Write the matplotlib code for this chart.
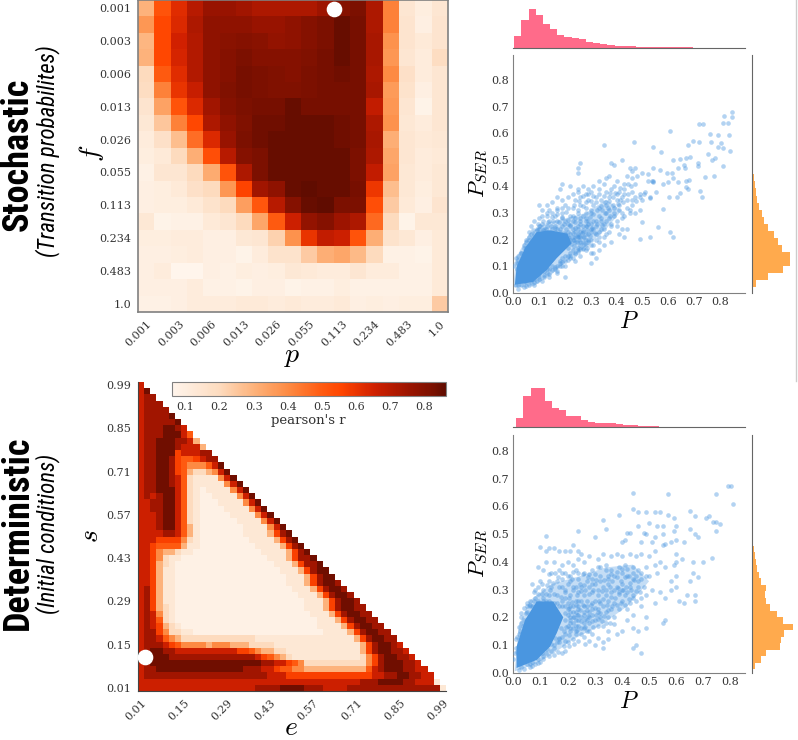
import matplotlib
matplotlib.use('Agg')
import matplotlib.pyplot as plt
import numpy as np
from matplotlib import font_manager
from matplotlib.colors import LinearSegmentedColormap
from matplotlib.lines import Line2D

W, H = 798, 740

# stochastic heatmap, pearson's r, row 0 = f 0.001
stoch_r = [
    [.30, .52, .62, .70, .76, .76, .74, .72, .72, .72, .72, .75, .80, .82, .72, .42, .14, .10, .14],
    [.37, .55, .63, .72, .78, .78, .78, .76, .76, .78, .80, .82, .85, .83, .72, .42, .15, .09, .15],
    [.29, .55, .65, .71, .78, .79, .80, .79, .77, .78, .80, .82, .85, .83, .73, .38, .15, .12, .15],
    [.30, .55, .64, .71, .78, .80, .82, .80, .80, .80, .81, .83, .85, .83, .73, .37, .14, .11, .19],
    [.20, .50, .62, .71, .78, .80, .83, .82, .81, .80, .82, .83, .84, .83, .72, .40, .17, .11, .14],
    [.19, .42, .60, .67, .78, .81, .83, .82, .81, .81, .82, .83, .83, .83, .73, .36, .16, .09, .14],
    [.15, .34, .52, .63, .74, .80, .82, .83, .83, .85, .83, .83, .83, .83, .68, .37, .14, .07, .14],
    [.13, .25, .42, .55, .72, .78, .81, .84, .84, .85, .85, .85, .84, .83, .72, .38, .13, .11, .14],
    [.11, .17, .27, .46, .63, .76, .82, .84, .85, .85, .85, .85, .84, .83, .73, .31, .14, .12, .13],
    [.10, .12, .20, .31, .53, .70, .80, .82, .85, .85, .85, .85, .85, .82, .72, .33, .14, .11, .12],
    [.08, .14, .14, .20, .32, .52, .72, .82, .85, .85, .85, .85, .85, .82, .68, .34, .13, .11, .13],
    [.09, .10, .12, .17, .20, .37, .56, .74, .78, .85, .86, .85, .85, .83, .59, .27, .13, .10, .13],
    [.09, .10, .10, .12, .16, .20, .35, .51, .70, .80, .85, .86, .82, .82, .53, .24, .12, .09, .15],
    [.13, .07, .08, .08, .12, .14, .20, .33, .50, .66, .77, .80, .75, .72, .47, .20, .07, .13, .13],
    [.10, .10, .11, .11, .09, .09, .13, .14, .22, .38, .60, .68, .66, .52, .31, .16, .13, .09, .12],
    [.09, .09, .10, .11, .09, .09, .07, .11, .16, .16, .24, .31, .33, .28, .20, .08, .08, .07, .12],
    [.09, .11, .06, .06, .09, .08, .10, .09, .10, .13, .12, .11, .11, .14, .11, .11, .08, .08, .12],
    [.09, .09, .09, .11, .08, .08, .07, .09, .09, .07, .08, .08, .10, .08, .08, .08, .08, .08, .12],
    [.08, .08, .09, .11, .11, .11, .12, .12, .11, .12, .11, .11, .12, .09, .10, .09, .10, .10, .24],
]
stoch_labels = ['0.001', '0.003', '0.006', '0.013', '0.026', '0.055', '0.113', '0.234', '0.483', '1.0']

# deterministic heatmap, one digit per cell, first string is s 0.99, last is s 0.01
det_rows = [
    "7",
    "79",
    "788",
    "7888",
    "78888",
    "788889",
    "7888889",
    "78889987",
    "788899975",
    "7889998873",
    "78899987773",
    "788999677788",
    "7889986556788",
    "78899865444579",
    "788998653223479",
    "7889987521111479",
    "78899875211111479",
    "788999752101111479",
    "7878997521001111479",
    "77889975210001111479",
    "778899752100001111479",
    "7778997521000001111479",
    "77789975210000001111479",
    "777899753100000001111479",
    "7777887531000000011113689",
    "77766664210000000011113689",
    "776555531100000000011113689",
    "7764332110000000000011113689",
    "77642110000000000000011136889",
    "776321" + "0" * 16 + "111" + "36889",
    "776311" + "0" * 17 + "111" + "36899",
    "776311" + "0" * 18 + "111" + "36899",
    "776311" + "0" * 18 + "111" + "368998",
    "786311" + "0" * 19 + "111" + "368998",
    "786311" + "0" * 20 + "111" + "368998",
    "786311" + "0" * 21 + "111" + "368998",
    "786321" + "0" * 21 + "111" + "3689988",
    "787421" + "0" * 22 + "111" + "3689988",
    "787521" + "0" * 23 + "111" + "3689988",
    "7876321" + "0" * 22 + "1111" + "3689988",
    "788642211" + "0" * 21 + "1111" + "3689988",
    "7887543" + "2" * 12 + "1" * 16 + "3689988",
    "78887654444344433322" + "22" + "1" * 14 + "3689987",
    "7899887777777777665433" + "22" + "1" * 12 + "36899887",
    "78999" + "8" * 14 + "7654" + "32" + "1" * 11 + "2" + "46899887",
    "78" + "9" * 18 + "8877654" + "2" * 10 + "468999887",
    "788" + "9" * 14 + "88" + "8776554433333333335" + "789998877",
    "7" + "8" * 17 + "8887776666666666666677" + "88998877",
    "7" * 36 + "8889999887771",
    "7" * 19 + "8888" + "9999" + "888" + "7777" + "8" * 15 + "1",
]
det_levels = [.08, .13, .20, .30, .40, .50, .57, .66, .74, .84]
det_labels = ['0.01', '0.15', '0.29', '0.43', '0.57', '0.71', '0.85', '0.99']

# saturated part of each cloud (thousands of overlapping points), outline
top_core_x = [.006, .076, .13, .168, .225, .21, .142, .09, .045, .013]
top_core_y = [.03, .04, .086, .13, .185, .222, .235, .228, .168, .098]
bot_core_x = [.012, .086, .135, .16, .184, .147, .086, .043, .012]
bot_core_y = [.017, .046, .094, .143, .20, .257, .257, .19, .094]
# half covered zone around the core
top_halo_x = [.0, .08, .15, .22, .29, .36, .42, .36, .28, .20, .12, .06, .01]
top_halo_y = [.02, .025, .07, .13, .18, .24, .31, .35, .30, .28, .26, .22, .13]
bot_halo_x = [.005, .08, .15, .22, .32, .42, .50, .44, .34, .25, .14, .06, .02]
bot_halo_y = [.005, .03, .07, .12, .17, .24, .33, .39, .38, .35, .32, .26, .17]

top_far = [
    (.845, .68), (.817, .665), (.845, .66), (.813, .64), (.83, .64), (.717, .635), (.735, .637), (.606, .61),
    (.761, .596), (.794, .593), (.836, .593), (.352, .558), (.468, .566), (.542, .548), (.57, .528), (.694, .572),
    (.72, .568), (.677, .555), (.765, .568), (.806, .565), (.794, .55), (.813, .543), (.839, .533), (.755, .522),
    (.78, .506), (.768, .5), (.813, .477), (.716, .487), (.716, .478), (.742, .437), (.777, .44), (.645, .502),
    (.67, .506), (.684, .51), (.62, .50), (.66, .48), (.665, .468), (.639, .468), (.613, .45), (.594, .452),
    (.568, .462), (.54, .468), (.52, .447), (.62, .43), (.68, .424), (.668, .42), (.639, .418), (.6, .418),
    (.58, .41), (.537, .42), (.723, .384), (.729, .359), (.677, .392), (.67, .399), (.645, .376), (.632, .361),
    (.604, .361), (.552, .379), (.529, .355), (.58, .317), (.561, .246), (.606, .227), (.619, .208), (.529, .211),
    (.49, .203), (.497, .267), (.54, .42), (.54, .418), (.47, .47), (.46, .46), (.45, .47), (.42, .50),
    (.38, .49), (.39, .48), (.26, .49), (.25, .47), (.25, .45), (.37, .44), (.36, .43), (.33, .42),
]
top_mid = [
    (.50, .45), (.48, .44), (.46, .43), (.44, .44), (.52, .42), (.47, .41), (.43, .41), (.40, .42), (.39, .40), (.35, .41),
    (.31, .40), (.29, .39), (.27, .40), (.25, .39), (.22, .40), (.19, .41), (.18, .39), (.23, .37), (.25, .38), (.28, .37),
    (.30, .38), (.33, .39), (.36, .38), (.38, .39), (.41, .38), (.43, .39), (.46, .38), (.49, .37), (.51, .38), (.53, .36),
    (.50, .35), (.47, .36), (.44, .35), (.42, .36), (.40, .35), (.37, .36), (.34, .35), (.32, .36), (.29, .35), (.26, .36),
    (.24, .35), (.21, .36), (.19, .35), (.17, .36), (.15, .34), (.13, .33), (.10, .33), (.11, .31), (.14, .31), (.17, .32),
    (.20, .33), (.23, .32), (.26, .33), (.28, .32), (.31, .33), (.33, .32), (.36, .33), (.39, .32), (.41, .33), (.44, .32),
    (.46, .33), (.49, .31), (.45, .30), (.42, .30), (.39, .29), (.36, .30), (.33, .29), (.30, .30), (.27, .29), (.25, .30),
    (.22, .29), (.19, .30), (.16, .29), (.13, .29), (.10, .28), (.08, .27), (.11, .26), (.14, .27), (.17, .27), (.20, .27),
    (.23, .27), (.26, .27), (.29, .27), (.32, .27), (.35, .26), (.38, .26), (.40, .25), (.42, .24), (.44, .24), (.41, .22),
    (.43, .21), (.37, .23), (.34, .24), (.31, .24), (.28, .25), (.25, .25), (.22, .25), (.19, .25), (.16, .25), (.13, .25),
    (.10, .25), (.07, .25), (.06, .23), (.35, .21), (.32, .22), (.29, .22), (.27, .23), (.24, .23), (.21, .23), (.18, .23),
    (.30, .20), (.28, .20), (.26, .21), (.23, .21), (.33, .19), (.31, .18), (.28, .18), (.26, .19), (.25, .17), (.28, .16),
    (.31, .15), (.24, .15), (.26, .14), (.22, .13), (.30, .11), (.24, .12), (.20, .12), (.19, .10), (.16, .09), (.20, .06),
    (.17, .08), (.14, .07), (.12, .06), (.10, .05), (.08, .04), (.06, .03), (.04, .02), (.02, .015), (.13, .09), (.18, .11),
]
top_near = [
    (.00, .10), (.01, .13), (.02, .14), (.03, .12), (.04, .18), (.05, .20), (.06, .21), (.07, .22), (.08, .22), (.09, .24),
    (.10, .24), (.11, .23), (.12, .24), (.13, .23), (.15, .24), (.16, .23), (.17, .24), (.18, .22), (.20, .22), (.21, .21),
    (.22, .20), (.24, .19), (.25, .21), (.26, .18), (.27, .17), (.23, .16), (.22, .15), (.25, .16), (.21, .14), (.20, .14),
    (.19, .13), (.18, .12), (.17, .10), (.15, .10), (.14, .09), (.12, .08), (.10, .07), (.09, .07), (.08, .05), (.07, .06),
    (.05, .04), (.04, .04), (.03, .03), (.02, .03), (.01, .03), (.03, .15), (.05, .17), (.07, .19), (.04, .14), (.02, .11),
    (.29, .19), (.27, .21), (.30, .23), (.32, .25), (.34, .27), (.30, .26), (.28, .28), (.24, .28), (.21, .26), (.19, .28),
    (.23, .24), (.26, .23), (.25, .22), (.28, .22), (.22, .22), (.24, .21), (.27, .19), (.23, .20), (.19, .21), (.18, .20),
]
top_dense = [
    (.21, .17), (.225, .185), (.235, .20), (.245, .215), (.255, .20), (.265, .225), (.275, .21), (.285, .235), (.295, .215), (.305, .245),
    (.215, .205), (.23, .225), (.25, .24), (.27, .25), (.29, .26), (.31, .27), (.325, .26), (.34, .28), (.355, .30), (.37, .31),
    (.195, .225), (.205, .24), (.22, .255), (.24, .265), (.26, .28), (.28, .30), (.30, .31), (.18, .24), (.195, .26), (.21, .275),
    (.23, .29), (.25, .31), (.27, .325), (.16, .245), (.175, .265), (.19, .285), (.205, .305), (.145, .25), (.155, .27), (.17, .295),
    (.125, .24), (.135, .265), (.15, .285), (.105, .25), (.115, .27), (.09, .235), (.095, .26), (.075, .235), (.06, .20), (.05, .19),
    (.04, .17), (.03, .15), (.02, .125), (.01, .11), (.015, .09), (.035, .13), (.055, .175), (.075, .205), (.095, .225), (.115, .235),
    (.05, .025), (.07, .04), (.09, .045), (.10, .06), (.12, .065), (.13, .075), (.15, .085), (.16, .095), (.18, .10), (.19, .115),
    (.21, .125), (.22, .14), (.24, .145), (.25, .155), (.27, .165), (.23, .13), (.20, .10), (.17, .075), (.14, .06), (.11, .045),
    (.08, .03), (.29, .20), (.30, .18), (.32, .20), (.33, .23), (.35, .24), (.36, .22), (.38, .25), (.40, .27), (.42, .28),
    (.37, .28), (.39, .30), (.41, .31), (.43, .29), (.45, .31), (.47, .30), (.35, .18), (.33, .16), (.38, .19), (.30, .15),
    (.32, .13), (.215, .19), (.235, .175), (.245, .19), (.26, .165), (.275, .185), (.285, .17), (.255, .215), (.27, .235), (.285, .25),
    (.30, .24), (.315, .225), (.33, .21), (.345, .255), (.36, .27), (.375, .29), (.24, .245), (.26, .26), (.28, .27), (.295, .285),
    (.31, .295), (.325, .31), (.34, .325), (.355, .34), (.37, .345), (.385, .36), (.40, .37), (.415, .35), (.43, .37), (.445, .37),
    (.46, .35), (.475, .345), (.49, .36), (.505, .37), (.425, .34), (.405, .335), (.385, .33), (.365, .32), (.345, .31), (.32, .34),
    (.30, .345), (.28, .34), (.255, .345), (.235, .33), (.21, .32), (.19, .32), (.17, .31), (.15, .30), (.13, .30), (.11, .29),
    (.445, .41), (.415, .395), (.395, .375), (.375, .375), (.35, .365), (.33, .37), (.31, .365), (.29, .37), (.27, .365), (.455, .40),
]

bot_far = [
    (.79, .675), (.80, .675), (.44, .65), (.57, .645), (.745, .645), (.81, .61), (.44, .59), (.46, .58), (.49, .58), (.52, .58),
    (.54, .58), (.57, .57), (.65, .585), (.67, .565), (.59, .56), (.60, .53), (.71, .56), (.72, .565), (.735, .545), (.745, .545),
    (.76, .535), (.745, .51), (.33, .55), (.34, .52), (.39, .57), (.46, .53), (.50, .54), (.53, .53), (.55, .53), (.59, .51),
    (.65, .52), (.67, .50), (.68, .49), (.43, .505), (.42, .505), (.48, .505), (.49, .50), (.52, .49), (.55, .50), (.60, .48),
    (.58, .47), (.63, .47), (.55, .46), (.56, .465), (.51, .47), (.47, .47), (.41, .48), (.40, .47), (.30, .49), (.24, .51),
    (.12, .495), (.22, .46), (.13, .45), (.10, .455), (.12, .44), (.15, .45), (.17, .44), (.19, .44), (.21, .44), (.24, .44),
    (.25, .43), (.60, .43), (.62, .41), (.60, .40), (.59, .39), (.66, .40), (.70, .40), (.73, .415), (.66, .36), (.68, .345),
    (.60, .35), (.58, .33), (.60, .31), (.65, .33), (.64, .28), (.67, .28), (.63, .25), (.67, .26), (.61, .26), (.55, .18),
    (.56, .19), (.49, .20), (.49, .16), (.44, .16), (.46, .15), (.45, .10), (.44, .09), (.47, .07), (.33, .09), (.33, .11),
    (.30, .10), (.35, .12), (.38, .14), (.40, .15), (.42, .19), (.44, .21), (.47, .24), (.52, .25), (.56, .27), (.58, .30),
]
bot_mid = [
    (.52, .44), (.50, .42), (.47, .43), (.45, .42), (.43, .43), (.40, .42), (.38, .43), (.36, .42), (.33, .43), (.31, .41),
    (.28, .42), (.26, .40), (.24, .41), (.22, .39), (.20, .40), (.18, .39), (.15, .40), (.12, .40), (.09, .38), (.11, .37),
    (.14, .36), (.17, .37), (.19, .36), (.21, .35), (.23, .37), (.26, .36), (.29, .37), (.31, .38), (.34, .39), (.36, .37),
    (.39, .38), (.41, .39), (.44, .38), (.46, .37), (.49, .38), (.52, .39), (.54, .40), (.56, .38), (.53, .36), (.50, .35),
    (.47, .34), (.45, .35), (.42, .35), (.40, .36), (.37, .35), (.35, .34), (.32, .35), (.29, .34), (.27, .33), (.24, .34),
    (.21, .33), (.18, .34), (.16, .33), (.13, .33), (.10, .33), (.07, .32), (.08, .30), (.11, .30), (.14, .31), (.17, .31),
    (.19, .30), (.22, .31), (.25, .31), (.28, .31), (.30, .32), (.33, .31), (.35, .32), (.38, .31), (.40, .32), (.43, .31),
    (.46, .31), (.48, .31), (.51, .30), (.54, .29), (.49, .28), (.47, .27), (.44, .28), (.41, .28), (.39, .29), (.36, .29),
    (.34, .28), (.31, .28), (.29, .29), (.26, .28), (.24, .29), (.21, .28), (.19, .27), (.16, .28), (.13, .28), (.11, .27),
    (.08, .27), (.06, .26), (.05, .24), (.09, .25), (.12, .26), (.15, .25), (.18, .26), (.20, .25), (.23, .26), (.25, .26),
    (.27, .26), (.30, .26), (.32, .25), (.35, .26), (.37, .25), (.40, .26), (.43, .25), (.45, .26), (.42, .23), (.39, .23),
    (.36, .23), (.34, .22), (.31, .23), (.29, .23), (.26, .24), (.24, .24), (.21, .24), (.37, .20), (.35, .20), (.32, .20),
    (.30, .19), (.28, .20), (.26, .21), (.24, .21), (.22, .22), (.33, .17), (.31, .17), (.28, .18), (.26, .18), (.24, .19),
    (.27, .15), (.25, .16), (.23, .17), (.29, .14), (.26, .13), (.23, .14), (.21, .15), (.22, .12), (.20, .11), (.19, .08),
    (.17, .11), (.15, .09), (.18, .07), (.13, .06), (.11, .05), (.10, .04), (.08, .03), (.06, .02), (.04, .015), (.02, .01),
]
bot_near = [
    (.00, .05), (.01, .12), (.02, .14), (.03, .18), (.03, .20), (.04, .19), (.05, .22), (.06, .24), (.07, .24), (.08, .24),
    (.09, .26), (.10, .25), (.11, .26), (.12, .25), (.13, .26), (.14, .25), (.16, .25), (.17, .24), (.18, .24), (.19, .24),
    (.20, .23), (.21, .22), (.22, .20), (.23, .19), (.21, .19), (.20, .17), (.21, .16), (.19, .14), (.18, .13), (.17, .12),
    (.16, .11), (.15, .10), (.14, .08), (.12, .07), (.11, .06), (.09, .05), (.07, .04), (.06, .03), (.05, .03), (.03, .02),
    (.24, .23), (.26, .22), (.28, .22), (.29, .25), (.31, .22), (.33, .24), (.23, .22), (.25, .20), (.27, .19), (.29, .21),
    (.22, .18), (.24, .17), (.26, .16), (.22, .24), (.24, .26), (.27, .24), (.20, .21), (.19, .19), (.21, .20), (.23, .15),
]
bot_dense = [
    (.19, .215), (.205, .235), (.215, .255), (.23, .245), (.245, .225), (.255, .245), (.27, .225), (.285, .245), (.30, .235), (.315, .26),
    (.33, .265), (.345, .245), (.36, .275), (.375, .27), (.39, .285), (.405, .30), (.42, .29), (.435, .30), (.45, .295), (.465, .29),
    (.175, .275), (.19, .29), (.205, .27), (.22, .30), (.235, .28), (.25, .295), (.265, .30), (.28, .285), (.295, .30), (.31, .30),
    (.325, .295), (.34, .30), (.355, .31), (.37, .30), (.385, .305), (.40, .30), (.415, .31), (.43, .325), (.445, .335), (.46, .33),
    (.15, .285), (.135, .30), (.12, .285), (.105, .285), (.09, .285), (.075, .26), (.06, .245), (.045, .215), (.035, .17), (.025, .15),
    (.015, .13), (.01, .09), (.005, .07), (.015, .075), (.02, .165), (.03, .215), (.04, .235), (.05, .25), (.075, .29), (.09, .31),
    (.105, .32), (.125, .315), (.145, .325), (.165, .345), (.18, .31), (.20, .32), (.215, .34), (.23, .31), (.245, .32), (.26, .315),
    (.275, .345), (.29, .32), (.305, .335), (.32, .33), (.335, .335), (.35, .35), (.365, .33), (.38, .345), (.395, .33), (.41, .345),
    (.425, .35), (.44, .34), (.255, .355), (.24, .36), (.22, .365), (.20, .35), (.18, .36), (.155, .36), (.13, .355), (.34, .37),
    (.32, .38), (.30, .355), (.28, .355), (.36, .355), (.38, .365), (.40, .375), (.42, .375), (.44, .36), (.47, .36), (.49, .35),
    (.17, .125), (.185, .15), (.195, .165), (.21, .18), (.225, .20), (.235, .21), (.25, .185), (.265, .195), (.275, .205), (.29, .185),
    (.305, .21), (.32, .215), (.335, .205), (.35, .225), (.365, .24), (.38, .245), (.395, .25), (.41, .245), (.425, .265), (.44, .27),
    (.175, .16), (.19, .115), (.205, .135), (.22, .16), (.235, .155), (.25, .14), (.265, .165), (.28, .15), (.295, .165), (.31, .195),
    (.325, .185), (.34, .18), (.355, .18), (.37, .175), (.155, .125), (.14, .105), (.125, .085), (.105, .07), (.09, .035), (.07, .025),
    (.165, .075), (.15, .065), (.185, .095), (.205, .095), (.225, .105), (.24, .115), (.31, .125), (.28, .115), (.265, .105), (.35, .15),
]

# marginal histograms, heights as drawn on screen
top_hx = [35, 83, 118, 100, 73, 57, 38, 32, 30, 27, 18, 13, 12, 8, 6, 4, 4, 3, 3, 3, 2, 1, 1, 1, 1]
top_hy = [12, 47, 94, 115, 115, 90, 78, 65, 48, 35, 28, 20, 14, 10, 7, 5, 3, 2]
bot_hx = [28, 93, 117, 117, 80, 57, 53, 35, 33, 22, 17, 13, 12, 13, 9, 7, 6, 5, 4, 3, 2, 2, 1, 1]
bot_hy = [8, 25, 40, 85, 87, 96, 122, 92, 74, 55, 42, 38, 42, 25, 20, 14, 10, 7, 5, 3, 1]

cmap = LinearSegmentedColormap.from_list('reds', [
    (0.0, '#fff5ec'), (0.17, '#fddcc0'), (0.30, '#fdb27a'), (0.42, '#fd8c45'),
    (0.55, '#ff5a10'), (0.62, '#ff4500'), (0.74, '#d02000'), (0.87, '#9a1400'), (0.96, '#781000'), (1.0, '#600c00')])
VMIN, VMAX = 0.06, 0.862
BLUE = '#4a96e0'
PINK = '#ff6b8a'
ORANGE = '#ffaa4d'
GRAY = '#808080'
TEXT = '#333333'

plt.rcParams['font.family'] = ['DejaVu Serif']
plt.rcParams['mathtext.fontset'] = 'cm'
plt.rcParams['xtick.color'] = TEXT
plt.rcParams['ytick.color'] = TEXT

fig = plt.figure(figsize=(W / 100, H / 100), dpi=100)


def box(left, top, right, bottom):
    return fig.add_axes([left / W, 1 - bottom / H, (right - left) / W, (bottom - top) / H])


def heat_ticks(ax, pos, labels, xname, yname, size):
    ax.set_xticks(pos)
    ax.set_yticks(pos)
    ax.set_xticklabels(labels, rotation=45, ha='right', rotation_mode='anchor')
    ax.set_yticklabels(labels)
    ax.tick_params(length=0, pad=5, labelsize=8)
    ax.set_xlabel(xname, fontsize=size, labelpad=0)
    ax.set_ylabel(yname, fontsize=size, labelpad=1)


# top heatmap
ax = box(138, 0, 448, 312)
ax.imshow(np.array(stoch_r), cmap=cmap, vmin=VMIN, vmax=VMAX, aspect='auto', interpolation='nearest')
heat_ticks(ax, np.arange(0, 19, 2), stoch_labels, '$p$', '$f$', 20)
ax.xaxis.set_label_coords(0.497, -30 / 312)
ax.yaxis.set_label_coords(-32 / 310, 0.51)
ax.scatter([11.5], [0.05], s=105, color='white', zorder=5, clip_on=False)
for s in ax.spines.values():
    s.set_color(GRAY)
    s.set_linewidth(1.2)

# bottom heatmap
det = np.full((50, 50), np.nan)
for k, row in enumerate(det_rows):
    for j, c in enumerate(row):
        det[49 - k, j] = det_levels[int(c)]
ax = box(138, 382, 446, 691)
im = ax.imshow(np.ma.masked_invalid(det), cmap=cmap, vmin=VMIN, vmax=VMAX, origin='lower', aspect='auto',
               interpolation='nearest')
heat_ticks(ax, np.arange(0, 50, 7), det_labels, '$e$', '$s$', 20)
ax.xaxis.set_label_coords(0.498, -23 / 309)
ax.yaxis.set_label_coords(-34 / 308, 0.5)
ax.scatter([0.58], [5.07], s=105, color='white', zorder=5, clip_on=False)
ax.spines['top'].set_visible(False)
ax.spines['right'].set_visible(False)
ax.spines['left'].set_color('#444444')
ax.spines['bottom'].set_color('#444444')

# colorbar
cax = box(171.7, 381.7, 445.7, 396)
cb = fig.colorbar(im, cax=cax, orientation='horizontal')
cb.set_ticks(np.arange(1, 9) / 10)
cb.ax.tick_params(length=0, labelsize=8, pad=4)
cb.set_label("pearson's r", fontsize=9.5, color=TEXT, labelpad=2)
cb.outline.set_edgecolor(GRAY)


def joint(top, bottom, mtop, mbottom, xmax, ymax, xticks, core_x, core_y, halo_x, halo_y, pts,
          hx, x0, bw, hxtop, hy, y0, bh):
    ax = box(513.3, top, 745, bottom)
    ax.fill(halo_x, halo_y, color=BLUE, alpha=0.32, lw=0, zorder=1)
    ax.fill(core_x, core_y, color=BLUE, lw=0, zorder=2)
    for group in pts:
        p = np.array(group)
        ax.scatter(p[:, 0], p[:, 1], s=11, color=BLUE, alpha=0.42, lw=0, zorder=3)
    ax.set_xlim(0, xmax)
    ax.set_ylim(0, ymax)
    ax.set_xticks(xticks)
    ax.set_yticks(xticks)
    ax.tick_params(length=0, labelsize=8, pad=3)
    ax.set_xlabel('$P$', fontsize=17, labelpad=2)
    ax.set_ylabel('$P_{SER}$', fontsize=16, labelpad=1)
    ax.spines['top'].set_visible(False)
    ax.spines['right'].set_visible(False)
    ax.spines['left'].set_color(GRAY)
    ax.spines['bottom'].set_color(GRAY)

    tx = box(513.3, mtop, 745, mbottom)
    tx.bar(x0 + bw * np.arange(len(hx)), hx, width=bw, align='edge', color=PINK, lw=0)
    tx.set_xlim(0, xmax)
    tx.set_ylim(0, hxtop)
    tx.set_xticks([])
    tx.set_yticks([])
    for k in ['top', 'left', 'right']:
        tx.spines[k].set_visible(False)
    tx.spines['bottom'].set_color('#666666')

    rx = box(752.3, top, 793, bottom)
    rx.barh(y0 + bh * np.arange(len(hy)), hy, height=bh, align='edge', color=ORANGE, lw=0)
    rx.set_ylim(0, ymax)
    rx.set_xlim(0, 123)
    rx.set_xticks([])
    rx.set_yticks([])
    for k in ['top', 'bottom', 'right']:
        rx.spines[k].set_visible(False)
    rx.spines['left'].set_color('#666666')


ticks = np.arange(0, 9) / 10
joint(55, 292.7, 8, 47.7, 0.897, 0.895, ticks, top_core_x, top_core_y, top_halo_x, top_halo_y,
      [top_far, top_mid, top_near, top_dense], top_hx, 0.004, 0.0277, 121, top_hy, 0.02, 0.0266)
joint(435, 672.7, 387, 427.3, 0.853, 0.858, ticks, bot_core_x, bot_core_y, bot_halo_x, bot_halo_y,
      [bot_far, bot_mid, bot_near, bot_dense], bot_hx, 0.011, 0.0263, 121, bot_hy, 0.012, 0.0235)

# row titles, a condensed face if the machine has one
have = {f.name for f in font_manager.fontManager.ttflist}
narrow = [n for n in ['Liberation Sans Narrow', 'Roboto Condensed', 'Open Sans Condensed', 'Noto Sans Condensed',
                      'DejaVu Sans Condensed'] if n in have] + ['Liberation Sans']
fig.text(18 / W, 1 - 154 / H, 'Stochastic', rotation=90, ha='center', va='center', family=narrow,
         fontweight='bold', fontsize=26, color='black')
fig.text(48 / W, 1 - 151 / H, '(Transition probabilites)', rotation=90, ha='center', va='center', family=narrow,
         fontstyle='italic', fontsize=16.5, color='black')
fig.text(18 / W, 1 - 533 / H, 'Deterministic', rotation=90, ha='center', va='center', family=narrow,
         fontweight='bold', fontsize=26, color='black')
fig.text(48 / W, 1 - 534 / H, '(Initial conditions)', rotation=90, ha='center', va='center', family=narrow,
         fontstyle='italic', fontsize=16.5, color='black')

fig.add_artist(Line2D([796 / W, 796 / W], [1 - 381 / H, 1], color='#cccccc', lw=1))

fig.savefig('out.png', dpi=100)
